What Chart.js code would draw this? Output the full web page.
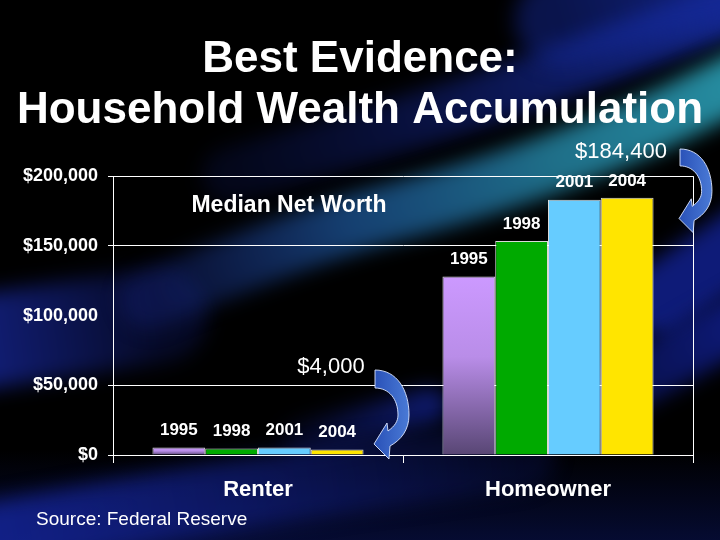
<!DOCTYPE html>
<html>
<head>
<meta charset="utf-8">
<script src="https://cdn.jsdelivr.net/npm/chart.js@4.4.0/dist/chart.umd.min.js"></script>
<style>
  html, body { margin: 0; padding: 0; background: #000; }
  #wrap { width: 720px; height: 540px; }
</style>
</head>
<body>
<div id="wrap"><canvas id="chart" width="720" height="540"></canvas></div>
<script>
/* Median net worth, renters vs homeowners (Federal Reserve SCF) */

const categories = ['Renter', 'Homeowner'];
const years = ['1995', '1998', '2001', '2004'];
const renter = [5300, 4700, 5300, 4000];
const homeowner = [128000, 153500, 183000, 184400];
const titleLines = ['Best Evidence:', 'Household Wealth Accumulation'];
const barColors = ['#cc99ff', '#00aa00', '#66ccff', '#ffe500'];

const FONT = '"Liberation Sans", Arial, sans-serif';
const money = v => '$' + v.toLocaleString('en-US');

/* ── background streaks (slide backdrop) ─────────────────────────── */
const STREAKS = [
  { pts: [[-40, 345], [160, 315]], w: 95, stops: ['rgba(22,38,150,0.85)', 'rgba(22,38,150,0.25)'] },
  { pts: [[230, 175], [450, 112], [620, 50], [740, 5]], w: 55, stops: ['rgba(18,34,130,0.2)', 'rgba(22,44,160,0.9)'] },
  { pts: [[560, 20], [760, -40]], w: 90, stops: ['rgba(20,40,150,0.5)', 'rgba(20,40,150,0.9)'] },
  { pts: [[150, 300], [300, 236], [480, 190], [633, 133], [745, 78]], w: 58,
    stops: ['rgba(26,44,150,0.3)', 'rgba(30,90,160,0.7)', 'rgba(36,130,160,0.85)', 'rgba(40,150,170,0.95)'] },
  { pts: [[660, 300], [760, 230]], w: 70, stops: ['rgba(18,34,150,0.8)', 'rgba(18,34,150,0.8)'] },
  { pts: [[600, 400], [760, 310]], w: 55, stops: ['rgba(16,30,140,0.5)', 'rgba(16,30,140,0.9)'] },
  { pts: [[300, 440], [430, 405]], w: 35, stops: ['rgba(20,36,150,0.2)', 'rgba(20,36,150,0.7)'] },
  { pts: [[-50, 545], [250, 490], [520, 455]], w: 70, stops: ['rgba(20,36,150,0.9)', 'rgba(20,36,150,0.2)'] },
];

const backdrop = {
  id: 'backdrop',
  beforeDraw(chart) {
    const { ctx, width, height } = chart;
    ctx.save();
    ctx.fillStyle = '#000';
    ctx.fillRect(0, 0, width, height);
    const bottom = ctx.createLinearGradient(0, 450, 0, height);
    bottom.addColorStop(0, 'rgba(10,20,90,0)');
    bottom.addColorStop(1, 'rgba(10,20,90,0.55)');
    ctx.fillStyle = bottom;
    ctx.fillRect(0, 450, width, 90);
    ctx.filter = 'blur(10px)';
    ctx.lineCap = 'round';
    ctx.lineJoin = 'round';
    STREAKS.forEach(s => {
      const a = s.pts[0], b = s.pts[s.pts.length - 1];
      const g = ctx.createLinearGradient(a[0], a[1], b[0], b[1]);
      s.stops.forEach((c, k) => g.addColorStop(k / (s.stops.length - 1), c));
      ctx.strokeStyle = g;
      ctx.lineWidth = s.w;
      ctx.beginPath();
      ctx.moveTo(a[0], a[1]);
      for (let i = 1; i < s.pts.length - 1; i++) {
        const p = s.pts[i], q = s.pts[i + 1];
        ctx.quadraticCurveTo(p[0], p[1], (p[0] + q[0]) / 2, (p[1] + q[1]) / 2);
      }
      ctx.lineTo(b[0], b[1]);
      ctx.stroke();
    });
    ctx.restore();
  }
};

/* ── year labels over each bar ───────────────────────────────────── */
const yearLabels = {
  id: 'yearLabels',
  afterDatasetsDraw(chart) {
    const { ctx } = chart;
    ctx.save();
    ctx.font = `bold 17px ${FONT}`;
    ctx.fillStyle = '#fff';
    ctx.textAlign = 'center';
    ctx.textBaseline = 'middle';
    chart.data.datasets.forEach((ds, i) => {
      chart.getDatasetMeta(i).data.forEach(bar => ctx.fillText(ds.label, bar.x, bar.y - 17));
    });
    ctx.restore();
  }
};

/* ── callouts: notes and curved arrows ───────────────────────────── */
function curvedArrow(ctx, x, y, s) {
  ctx.save();
  ctx.translate(x, y);
  ctx.scale(s, s);
  ctx.beginPath();
  ctx.moveTo(0, 0);
  ctx.bezierCurveTo(22, 0, 34, 20, 34, 45);
  ctx.bezierCurveTo(34, 60, 26, 70, 15, 76);
  ctx.lineTo(14, 89);
  ctx.lineTo(-1, 74);
  ctx.lineTo(12, 53);
  ctx.lineTo(13, 61);
  ctx.bezierCurveTo(20, 56, 23, 51, 23, 45);
  ctx.bezierCurveTo(23, 29, 14, 18, 0, 18);
  ctx.closePath();
  const g = ctx.createLinearGradient(0, 0, 34, 0);
  g.addColorStop(0, '#2a52b8');
  g.addColorStop(1, '#4a7ad6');
  ctx.fillStyle = g;
  ctx.fill();
  ctx.strokeStyle = 'rgba(220,230,255,0.9)';
  ctx.lineWidth = 1 / s;
  ctx.stroke();
  ctx.restore();
}

const callouts = {
  id: 'callouts',
  afterDraw(chart) {
    const { ctx } = chart;
    const notes = [
      { text: 'Median Net Worth', x: 289, y: 206, font: `bold 23px ${FONT}` },
      { text: money(renter[3]), x: 331, y: 367, font: `22px ${FONT}` },
      { text: money(homeowner[3]), x: 621, y: 152, font: `22px ${FONT}` },
      { text: 'Source: Federal Reserve', x: 36, y: 520, font: `19px ${FONT}`, align: 'left' },
    ];
    ctx.save();
    ctx.fillStyle = '#fff';
    ctx.textBaseline = 'middle';
    notes.forEach(n => {
      ctx.font = n.font;
      ctx.textAlign = n.align || 'center';
      ctx.fillText(n.text, n.x, n.y);
    });
    ctx.restore();
    curvedArrow(ctx, 375, 370, 1);
    curvedArrow(ctx, 680, 149, 0.94);
  }
};

/* ── bar colours (1995 is a lavender gradient) ───────────────────── */
function barFill(i) {
  if (i !== 0) return barColors[i];
  return c => {
    const y = c.chart.scales.y;
    if (!y || typeof c.raw !== 'number') return barColors[0];
    const top = y.getPixelForValue(c.raw);
    const bot = y.getPixelForValue(0);
    if (!isFinite(top) || !isFinite(bot) || top === bot) return barColors[0];
    const g = c.chart.ctx.createLinearGradient(0, top, 0, bot);
    g.addColorStop(0, '#cc99ff');
    g.addColorStop(0.45, '#b98de8');
    g.addColorStop(1, '#584674');
    return g;
  };
}

const datasets = years.map((yr, i) => ({
  label: yr,
  data: [renter[i], homeowner[i]],
  backgroundColor: barFill(i),
  borderColor: 'rgba(255,255,255,0.85)',
  borderWidth: 1,
  borderSkipped: 'bottom',
  categoryPercentage: 0.728,
  barPercentage: 1.0,
}));

new Chart(document.getElementById('chart').getContext('2d'), {
  type: 'bar',
  data: { labels: categories, datasets },
  options: {
    responsive: false,
    animation: false,
    devicePixelRatio: 1,
    layout: { padding: 0 },
    plugins: {
      legend: { display: false },
      tooltip: { enabled: false },
      title: {
        display: true,
        text: titleLines,
        color: '#fff',
        font: { family: FONT, size: 44, weight: 'bold', lineHeight: 1.16 },
        padding: { top: 34, bottom: 40 },
      },
    },
    scales: {
      x: {
        afterFit: s => { s.height = 85; },
        grid: {
          offset: true,
          color: c => c.index === 1 ? 'rgba(0,0,0,0)' : '#fff',
          tickColor: '#fff',
          tickLength: 8,
          lineWidth: 1,
        },
        border: { display: true, color: '#fff' },
        ticks: { color: '#fff', padding: 14, font: { family: FONT, size: 22, weight: 'bold' } },
      },
      y: {
        min: 0,
        max: 200000,
        afterFit: s => { s.width = 113; },
        grid: {
          color: c => c.tick && c.tick.value === 100000 ? 'rgba(0,0,0,0)' : '#fff',
          tickColor: c => c.tick && c.tick.value === 100000 ? 'rgba(0,0,0,0)' : '#fff',
          tickLength: 5,
          lineWidth: 1,
        },
        border: { display: true, color: '#fff' },
        ticks: {
          stepSize: 50000,
          color: '#fff',
          padding: 10,
          font: { family: FONT, size: 18, weight: 'bold' },
          callback: v => money(v),
        },
      },
      // empty right-hand gutter so the plot stops at the slide's margin
      gutter: {
        type: 'linear',
        position: 'right',
        afterFit: s => { s.width = 27; },
        grid: { display: false },
        border: { display: false },
        ticks: { display: false },
      },
    },
  },
  plugins: [backdrop, yearLabels, callouts],
});
</script>
</body>
</html>
